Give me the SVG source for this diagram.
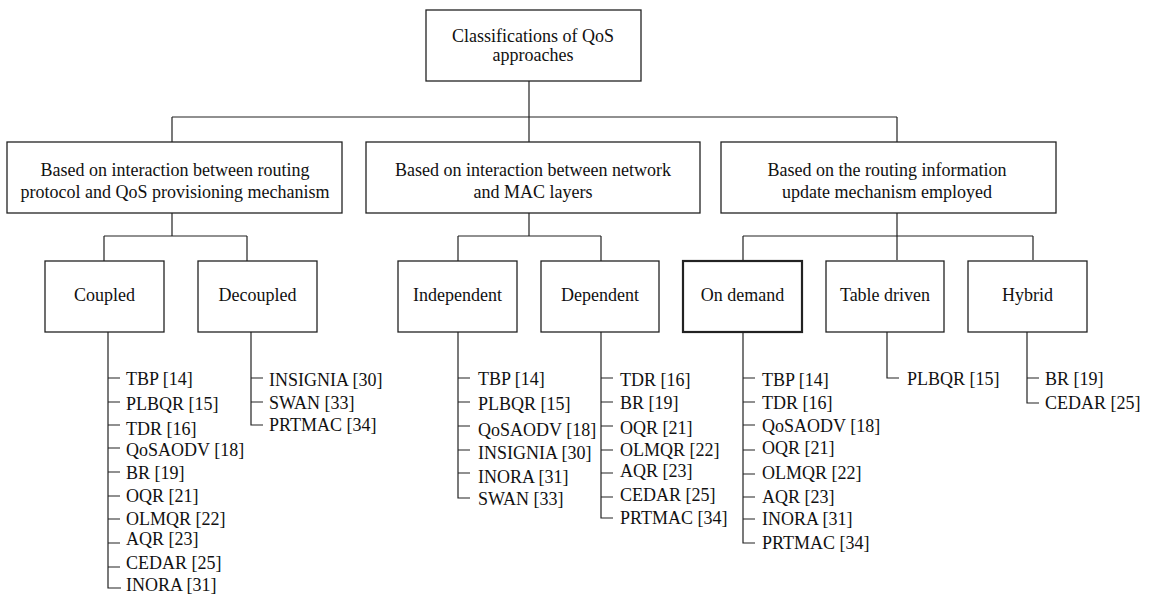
<svg xmlns="http://www.w3.org/2000/svg" width="1149" height="595" viewBox="0 0 1149 595">
<style>
.box{fill:#fff;stroke:#222;stroke-width:1.3}
.bold{stroke-width:2.2}
.ln{fill:none;stroke:#222;stroke-width:1.2}
text{font-family:"Liberation Serif","Times New Roman",serif;font-size:18px;fill:#111}
.c{text-anchor:middle}
</style>
<rect width="1149" height="595" fill="#fff"/>
<g id="connectors" class="ln">
<path d="M529 81V117M172 117H897M172 117V142M529 117V142M897 117V142"/>
<path d="M172 213V236M104 236H247M104 236V261M247 236V261"/>
<path d="M529 213V236M458 236H601M458 236V261M601 236V261"/>
<path d="M897 213V236M743 236H1033M743 236V260M897 236V260M1033 236V260"/>
<path d="M108 332V588H121M108 378H120M108 402H120M108 425H120M108 448H120M108 472H120M108 496H120M108 519H120M108 543H120M108 567H120"/>
<path d="M251 332V425H263M251 378H263M251 402H263"/>
<path d="M458 332V498H470M458 378H470M458 402H470M458 426H470M458 450H470M458 473H470"/>
<path d="M601 332V518H613M601 378H613M601 402H613M601 426H613M601 450H613M601 473H613M601 497H613"/>
<path d="M743 332V543H755M743 378H755M743 402H755M743 425H755M743 450H755M743 474H755M743 497H755M743 519H755"/>
<path d="M887 332V378H899"/>
<path d="M1027 332V403H1039M1027 378H1039"/>
</g>
<g id="root">
<rect class="box" x="426" y="10" width="215" height="71"/>
<text class="c" x="533" y="42">Classifications of QoS</text>
<text class="c" x="533" y="61">approaches</text>
</g>
<g id="interaction-routing">
<rect class="box" x="7" y="142" width="335" height="71"/>
<text class="c" x="175" y="176">Based on interaction between routing</text>
<text class="c" x="175" y="198">protocol and QoS provisioning mechanism</text>
</g>
<g id="interaction-layers">
<rect class="box" x="366" y="142" width="334" height="71"/>
<text class="c" x="533" y="176">Based on interaction between network</text>
<text class="c" x="533" y="198">and MAC layers</text>
</g>
<g id="update-mechanism">
<rect class="box" x="721" y="142" width="335" height="71"/>
<text class="c" x="887" y="176">Based on the routing information</text>
<text class="c" x="887" y="198">update mechanism employed</text>
</g>
<g id="coupled">
<rect class="box" x="45" y="261" width="119" height="71"/>
<text class="c" x="104.5" y="301">Coupled</text>
</g>
<g id="decoupled">
<rect class="box" x="198" y="261" width="119" height="71"/>
<text class="c" x="257.5" y="301">Decoupled</text>
</g>
<g id="independent">
<rect class="box" x="398" y="261" width="119" height="71"/>
<text class="c" x="457.5" y="301">Independent</text>
</g>
<g id="dependent">
<rect class="box" x="541" y="261" width="118" height="71"/>
<text class="c" x="600" y="301">Dependent</text>
</g>
<g id="on-demand">
<rect class="box bold" x="683" y="261" width="119" height="71"/>
<text class="c" x="742.5" y="301">On demand</text>
</g>
<g id="table-driven">
<rect class="box" x="826" y="261" width="118" height="71"/>
<text class="c" x="885" y="301">Table driven</text>
</g>
<g id="hybrid">
<rect class="box" x="968" y="261" width="119" height="71"/>
<text class="c" x="1027.5" y="301">Hybrid</text>
</g>
<g id="coupled-list">
<text x="126" y="385">TBP [14]</text>
<text x="126" y="410">PLBQR [15]</text>
<text x="126" y="435">TDR [16]</text>
<text x="126" y="456">QoSAODV [18]</text>
<text x="126" y="479">BR [19]</text>
<text x="126" y="502">OQR [21]</text>
<text x="126" y="525">OLMQR [22]</text>
<text x="126" y="545">AQR [23]</text>
<text x="126" y="569">CEDAR [25]</text>
<text x="126" y="591">INORA [31]</text>
</g>
<g id="decoupled-list">
<text x="269" y="386">INSIGNIA [30]</text>
<text x="269" y="409">SWAN [33]</text>
<text x="269" y="431">PRTMAC [34]</text>
</g>
<g id="independent-list">
<text x="478" y="385">TBP [14]</text>
<text x="478" y="410">PLBQR [15]</text>
<text x="478" y="436">QoSAODV [18]</text>
<text x="478" y="459">INSIGNIA [30]</text>
<text x="478" y="483">INORA [31]</text>
<text x="478" y="505">SWAN [33]</text>
</g>
<g id="dependent-list">
<text x="620" y="386">TDR [16]</text>
<text x="620" y="409">BR [19]</text>
<text x="620" y="434">OQR [21]</text>
<text x="620" y="456">OLMQR [22]</text>
<text x="620" y="477">AQR [23]</text>
<text x="620" y="501">CEDAR [25]</text>
<text x="620" y="524">PRTMAC [34]</text>
</g>
<g id="on-demand-list">
<text x="762" y="386">TBP [14]</text>
<text x="762" y="409">TDR [16]</text>
<text x="762" y="432">QoSAODV [18]</text>
<text x="762" y="454">OQR [21]</text>
<text x="762" y="479">OLMQR [22]</text>
<text x="762" y="503">AQR [23]</text>
<text x="762" y="525">INORA [31]</text>
<text x="762" y="549">PRTMAC [34]</text>
</g>
<g id="table-driven-list">
<text x="907" y="385">PLBQR [15]</text>
</g>
<g id="hybrid-list">
<text x="1045" y="385">BR [19]</text>
<text x="1045" y="409">CEDAR [25]</text>
</g>
</svg>
